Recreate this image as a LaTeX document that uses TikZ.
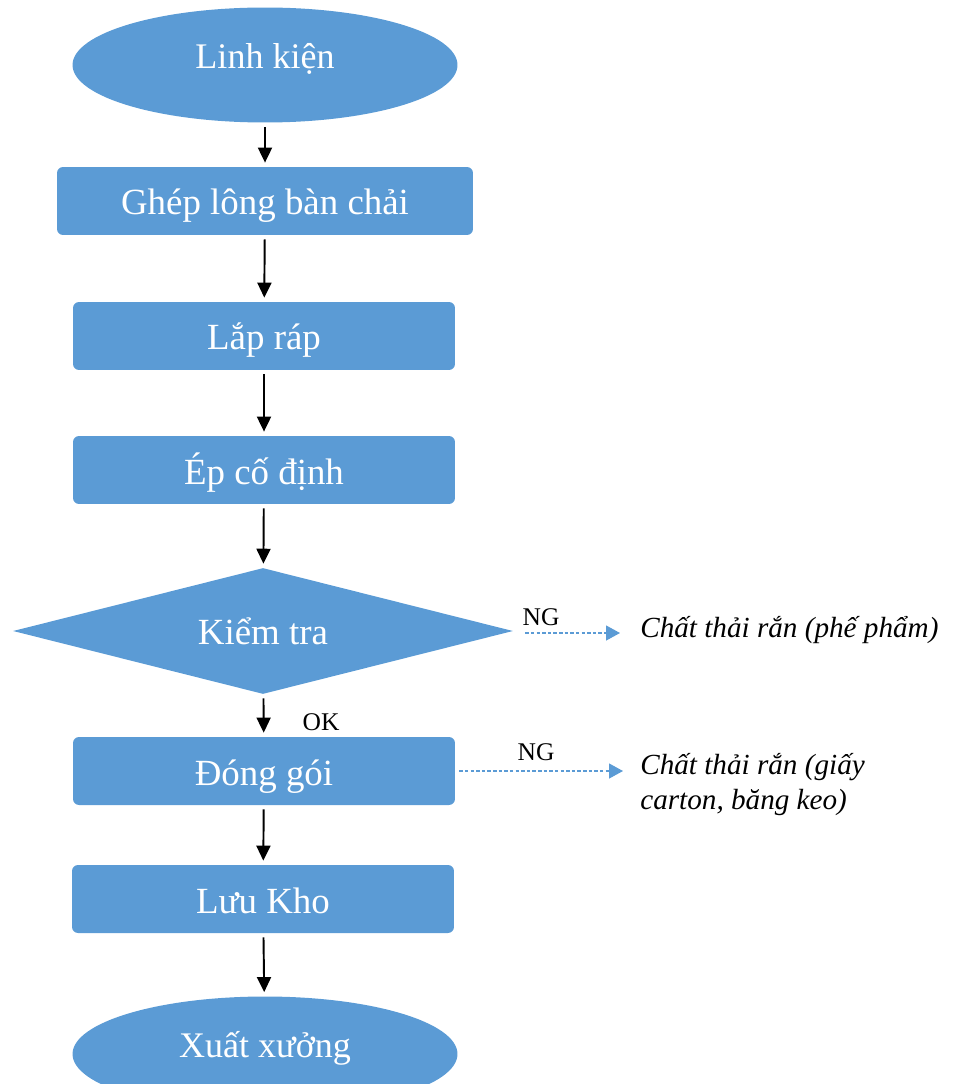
\documentclass[tikz,border=0pt]{standalone}
\usepackage{fontspec}
\setmainfont{Liberation Serif}
\usetikzlibrary{shapes.geometric,arrows.meta}
\definecolor{flowblue}{HTML}{5B9BD5}

\begin{document}
\begin{tikzpicture}[x=0.02cm, y=-0.02cm, auto,
		box_style/.style={rectangle,rounded corners=0.12cm,fill=flowblue,text=white,minimum height=1.36cm,minimum width=7.64cm,text height=0.7cm,text depth=0.14cm,font=\fontsize{21}{25}\selectfont},
		ellipse_style/.style={ellipse,fill=flowblue,text=white,minimum width=7.7cm,minimum height=2.3cm,text height=0.5cm,text depth=0.36cm,font=\fontsize{20.5}{25}\selectfont},
		diamond_style/.style={diamond,aspect=4,inner sep=0pt,fill=flowblue,text=white,minimum width=10cm,minimum height=2.52cm,font=\fontsize{21}{25}\selectfont},
		waste_style/.style={inner sep=0pt,align=left,font=\fontsize{16.6}{19.8}\selectfont\itshape},
		label_style/.style={inner sep=0pt,font=\fontsize{14.5}{17}\selectfont},
		edge_style/.style={draw=black,line width=1.1pt,shorten >=2.3pt,shorten <=2.3pt,-{Triangle[length=0.3cm,width=0.28cm]}},
		waste_edge_style/.style={draw=flowblue,line width=0.7pt,dash pattern=on 2pt off 1.2pt,-{Triangle[length=0.28cm,width=0.3cm]}}]

		\useasboundingbox (0,0) rectangle (953,1084);
		\clip (0,0) rectangle (953,1084);

		\node[ellipse_style] (n0) at (265,65) {Linh kiện};
		\node[box_style,minimum width=8.32cm] (n1) at (265,201) {Ghép lông bàn chải};
		\node[box_style] (n2) at (264,336) {Lắp ráp};
		\node[box_style] (n3) at (264,470) {Ép cố định};
		\node[diamond_style] (n4) at (263,631) {Kiểm tra};
		\node[box_style] (n5) at (264,771) {Đóng gói};
		\node[box_style] (n6) at (263,899) {Lưu Kho};
		\node[ellipse_style] (n7) at (265,1054) {Xuất xưởng};

		\node[waste_style,anchor=west] (w1) at (640,630) {Chất thải rắn (phế phẩm)};
		\node[waste_style,anchor=north west] (w2) at (640,753) {Chất thải rắn (giấy\\carton, băng keo)};
		\coordinate (c1) at (620,633);
		\coordinate (c2) at (623,771);

		\node[label_style] (ng1) at (541,617) {NG};
		\node[label_style] (ng2) at (536,752) {NG};
		\node[label_style] (ok) at (321,722) {OK};

		\draw[edge_style]  (n0) edge node{} (n1);
		\draw[edge_style]  (n1) edge node{} (n2);
		\draw[edge_style]  (n2) edge node{} (n3);
		\draw[edge_style]  (n3) edge node{} (n4);
		\draw[edge_style]  (n4) edge node{} (n5);
		\draw[edge_style]  (n5) edge node{} (n6);
		\draw[edge_style]  (n6) edge node{} (n7);
		\draw[waste_edge_style]  (n4.east) ++(12,2) -- (c1);
		\draw[waste_edge_style]  (n5.east) ++(4,0) -- (c2);
		\end{tikzpicture}
\end{document}
